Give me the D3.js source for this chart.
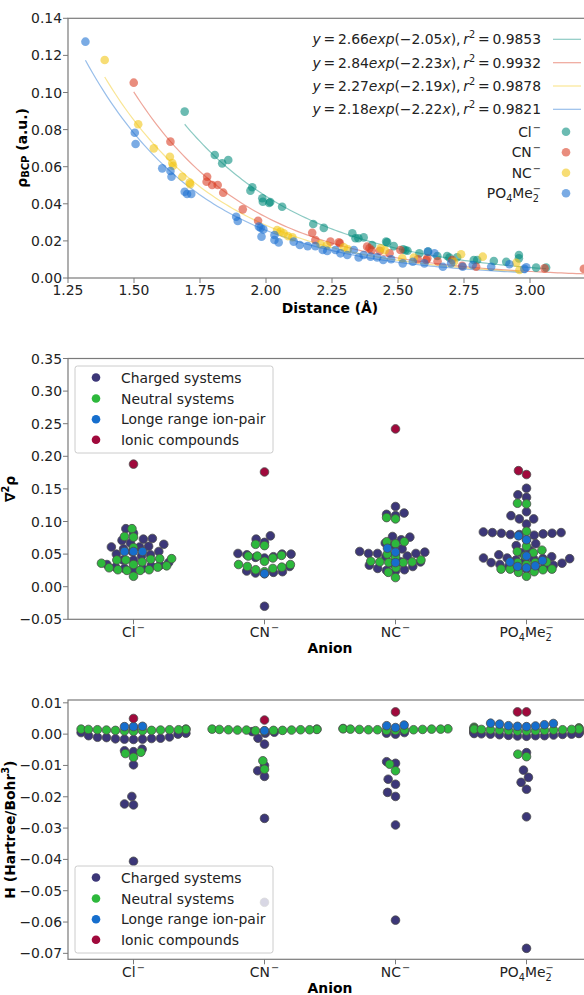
<!DOCTYPE html>
<html><head><meta charset="utf-8">
<script src="https://cdn.jsdelivr.net/npm/d3@7"></script>
<style>body{margin:0;background:#fff}svg{display:block;font-family:"DejaVu Sans",sans-serif}</style>
</head><body>
<svg id="chart" width="584" height="995"></svg>
<script>
// ---------------- DATA ----------------
const anions = ["Cl", "CN", "NC", "PO4Me2"];
// Panel 1: [distance (Å), rho_BCP (a.u.)]
const rhoCl = [[1.692,0.0897],[1.806,0.0663],[1.834,0.0618],[1.857,0.0636],[1.941,0.0471],[1.948,0.0489],[1.986,0.0430],[1.988,0.0411],[2.012,0.0404],[2.016,0.0410],[2.061,0.0384],[2.179,0.0291],[2.219,0.0270],[2.327,0.0241],[2.339,0.0214],[2.350,0.0214],[2.370,0.0219],[2.402,0.0178],[2.455,0.0196],[2.459,0.0192],[2.484,0.0172],[2.520,0.0155],[2.528,0.0150],[2.536,0.0147],[2.581,0.0133],[2.614,0.0142],[2.649,0.0119],[2.686,0.0119],[2.695,0.0110],[2.724,0.0112],[2.787,0.0097],[2.800,0.0097],[2.863,0.0092],[2.910,0.0088],[2.958,0.0124],[2.958,0.0106],[3.023,0.0056],[3.061,0.0056]];
const rhoCN = [[1.499,0.1053],[1.638,0.0735],[1.777,0.0546],[1.775,0.0519],[1.796,0.0501],[1.817,0.0501],[1.838,0.0460],[1.912,0.0370],[1.970,0.0309],[2.175,0.0244],[2.187,0.0205],[2.244,0.0196],[2.276,0.0192],[2.280,0.0187],[2.383,0.0169],[2.392,0.0160],[2.400,0.0150],[2.431,0.0147],[2.468,0.0133],[2.509,0.0151],[2.575,0.0101],[2.607,0.0097],[2.611,0.0106],[2.650,0.0090],[2.705,0.0097],[2.743,0.0066],[2.796,0.0061],[3.055,0.0052],[3.204,0.0049]];
const rhoNC = [[1.389,0.1175],[1.516,0.0829],[1.575,0.0699],[1.636,0.0654],[1.648,0.0605],[1.645,0.0620],[1.683,0.0546],[1.711,0.0514],[1.713,0.0505],[2.042,0.0259],[2.055,0.0250],[2.067,0.0241],[2.083,0.0226],[2.100,0.0220],[2.206,0.0183],[2.230,0.0175],[2.295,0.0165],[2.310,0.0155],[2.434,0.0160],[2.450,0.0150],[2.516,0.0106],[2.560,0.0110],[2.712,0.0088],[2.739,0.0128],[2.821,0.0115],[2.948,0.0082],[2.960,0.0043]];
const rhoPO4 = [[1.316,0.1274],[1.503,0.0783],[1.506,0.0722],[1.607,0.0591],[1.638,0.0577],[1.642,0.0546],[1.692,0.0465],[1.701,0.0453],[1.717,0.0453],[1.887,0.0330],[1.893,0.0307],[1.973,0.0277],[1.980,0.0270],[1.990,0.0262],[1.983,0.0223],[2.032,0.0232],[2.032,0.0205],[2.048,0.0192],[2.105,0.0196],[2.128,0.0178],[2.158,0.0172],[2.187,0.0172],[2.215,0.0151],[2.232,0.0146],[2.263,0.0151],[2.282,0.0133],[2.308,0.0124],[2.333,0.0151],[2.351,0.0111],[2.370,0.0124],[2.396,0.0115],[2.421,0.0111],[2.444,0.0097],[2.474,0.0101],[2.518,0.0079],[2.556,0.0088],[2.600,0.0079],[2.613,0.0142],[2.638,0.0133],[2.670,0.0061],[2.701,0.0079],[2.745,0.0061],[2.783,0.0070],[2.853,0.0061],[2.922,0.0074],[2.979,0.0049],[2.986,0.0058]];
const fitA = [2.66, 2.84, 2.27, 2.18];
const fitB = [-2.05, -2.23, -2.19, -2.22];
const fitR2 = [0.9853, 0.9932, 0.9878, 0.9821];
const xTicksDist = [1.25, 1.50, 1.75, 2.00, 2.25, 2.50, 2.75, 3.00];
const yTicksRho = [0, 0.02, 0.04, 0.06, 0.08, 0.10, 0.12, 0.14];

// Panel 2: Laplacian, per anion [Cl, CN, NC, PO4Me2]
const groups = ["Charged systems", "Neutral systems", "Longe range ion-pair", "Ionic compounds"];
const lapCharged = [
  [0.089,0.082,0.074,0.073,0.071,0.067,0.065,0.062,0.061,0.061,0.058,0.054,0.054,0.050,0.049,0.047,0.041,0.041,0.037,0.034,0.033,0.032,0.030,0.028,0.028,0.027],
  [0.078,0.073,0.068,0.051,0.050,0.050,0.049,0.046,0.045,0.044,0.031,0.024,0.023,0.022,0.021,0.020,-0.030],
  [0.123,0.113,0.111,0.109,0.077,0.076,0.072,0.067,0.064,0.058,0.054,0.053,0.051,0.051,0.051,0.049,0.047,0.046,0.038,0.038,0.036,0.033,0.031,0.028,0.026,0.025,0.024],
  [0.151,0.141,0.137,0.115,0.109,0.104,0.104,0.096,0.084,0.083,0.083,0.082,0.082,0.081,0.080,0.080,0.079,0.072,0.066,0.063,0.056,0.052,0.049,0.046,0.044,0.044,0.043,0.043,0.042,0.041,0.040,0.037,0.036,0.034,0.033,0.031,0.030,0.029,0.028,0.027]
];
const lapNeutral = [
  [0.089,0.077,0.076,0.060,0.043,0.043,0.042,0.041,0.041,0.038,0.036,0.034,0.032,0.030,0.029,0.026,0.026,0.025,0.025,0.016],
  [0.065,0.063,0.048,0.047,0.047,0.044,0.039,0.034,0.034,0.031,0.030,0.028,0.026,0.023],
  [0.106,0.104,0.069,0.069,0.066,0.050,0.046,0.041,0.039,0.038,0.038,0.037,0.037,0.029,0.022,0.014],
  [0.128,0.127,0.085,0.062,0.056,0.054,0.052,0.047,0.038,0.037,0.037,0.034,0.027,0.027,0.027,0.026,0.023,0.022,0.016]
];
const lapLongRange = [[0.054,0.054,0.054],[0.020],[0.059,0.053,0.037],[0.078,0.072,0.047,0.040,0.038,0.032,0.031,0.029]];
const lapIonic = [[0.188],[0.176],[0.242],[0.178,0.172]];
const yTicksLap = [-0.05, 0, 0.05, 0.10, 0.15, 0.20, 0.25, 0.30, 0.35];

// Panel 3: H (Hartree/Bohr^3)
const hCharged = [
  [0.0019,0.0005,0.0003,0.0,-0.0005,-0.0009,-0.0011,-0.0013,-0.0015,-0.0016,-0.0017,-0.0016,-0.0014,-0.0010,-0.0048,-0.0053,-0.0056,-0.0098,-0.0199,-0.0223,-0.0226,-0.0406],
  [0.0008,0.0006,0.0003,-0.0013,-0.0032,-0.0100,-0.0117,-0.0135,-0.0269,-0.0537],
  [0.0005,0.0003,0.0,-0.0088,-0.0093,-0.0144,-0.0160,-0.0186,-0.0199,-0.0290,-0.0594],
  [0.0012,0.0011,0.0010,0.0009,0.0008,0.0007,0.0006,0.0005,0.0004,0.0003,0.0002,0.0002,0.0001,0.0,0.0,-0.0001,-0.0002,-0.0003,-0.0004,-0.0005,-0.0005,-0.0006,-0.0007,-0.0059,-0.0115,-0.0138,-0.0154,-0.0176,-0.0264,-0.0684]
];
const hNeutral = [
  [0.0016,0.0016,0.0015,0.0015,0.0014,0.0014,0.0014,0.0013,0.0013,0.0012,0.0012,0.0011,0.0010,0.0009,-0.0058,-0.0062,-0.0074],
  [0.0016,0.0016,0.0015,0.0015,0.0014,0.0014,0.0014,0.0013,0.0013,0.0013,0.0012,0.0012,0.0011,0.0010,-0.0085,-0.0112],
  [0.0018,0.0017,0.0017,0.0016,0.0016,0.0016,0.0015,0.0015,0.0014,0.0014,0.0014,0.0013,0.0012,0.0012,-0.0096,-0.0117],
  [0.0022,0.0020,0.0019,0.0018,0.0017,0.0016,0.0016,0.0015,0.0015,0.0014,0.0014,0.0013,0.0013,0.0012,0.0012,0.0011,0.0010,0.0010,-0.0064,-0.0072]
];
const hLongRange = [[0.0024,0.0024,0.0025],[0.0011],[0.0027,0.0021,0.0029],[0.0035,0.0034,0.0032,0.0030,0.0027,0.0026,0.0025,0.0024]];
const hIonic = [[0.0050],[0.0045],[0.0071],[0.0071,0.0071]];
const yTicksH = [0.01, 0, -0.01, -0.02, -0.03, -0.04, -0.05, -0.06, -0.07];

// ---------------- STYLE ----------------
const FS = 13.9;
const SPINE = "#7a7a7a", TXT = "#222";
const anionColors = ["#00897b", "#d93a20", "#f2c511", "#1a6fd0"];
const groupColors = ["#3c3778", "#2db83c", "#166ecd", "#a0093c"];
const AX_L = 68, AX_R = 592;
const svg = d3.select("#chart");
const fmt2 = d3.format(".2f");

function addChem(t, label, fs) {
  const toks = label.match(/[A-Za-z]+|\d+/g);
  let cur = 0, last = null;
  toks.forEach(tok => {
    const isD = /^\d+$/.test(tok);
    const target = isD ? 0.24 * fs : 0;
    t.append("tspan").attr("dy", target - cur).attr("font-size", isD ? 0.7 * fs : fs).text(tok);
    cur = target; last = isD ? tok : null;
  });
  const sup = -0.42 * fs;
  const ts = t.append("tspan").attr("font-size", 0.7 * fs).attr("dy", sup - cur).text("\u2212");
  ts.attr("dx", last ? -0.636 * 0.7 * fs * last.length : 0.08 * fs);
}

function frame(top, bottom) {
  svg.append("rect").attr("x", AX_L).attr("y", top).attr("width", AX_R - AX_L).attr("height", bottom - top)
    .attr("fill", "none").attr("stroke", SPINE).attr("stroke-width", 1.2);
}
function yAxisTicks(yS, ticks) {
  ticks.forEach(v => {
    const y = yS(v);
    svg.append("line").attr("x1", AX_L - 5).attr("x2", AX_L).attr("y1", y).attr("y2", y).attr("stroke", SPINE).attr("stroke-width", 1);
    svg.append("text").attr("x", AX_L - 6).attr("y", y).attr("dy", "0.36em").attr("text-anchor", "end")
      .attr("font-size", FS).attr("fill", TXT).text(fmt2(v));
  });
}
function xTickMark(x, bottom) {
  svg.append("line").attr("x1", x).attr("x2", x).attr("y1", bottom).attr("y2", bottom + 5).attr("stroke", SPINE).attr("stroke-width", 1);
}
function yLabel(bx, cy, build) {
  const t = svg.append("text").attr("transform", `translate(${bx},${cy}) rotate(-90)`).attr("text-anchor", "middle")
    .attr("font-weight", "bold").attr("font-size", FS).attr("fill", "#000");
  build(t);
}
function xLabel(cy, txt) {
  svg.append("text").attr("x", (AX_L + AX_R) / 2).attr("y", cy + 5).attr("text-anchor", "middle")
    .attr("font-weight", "bold").attr("font-size", FS).attr("fill", "#000").text(txt);
}

// ---------------- PANEL 1 ----------------
(function () {
  const top = 18.3, bottom = 278;
  const x = d3.scaleLinear().domain([1.25, 1.25 + (AX_R - AX_L) / 264]).range([AX_L, AX_R]);
  const y = d3.scaleLinear().domain([0, 0.14]).range([bottom, top]);
  const series = [rhoCl, rhoCN, rhoNC, rhoPO4];
  svg.append("clipPath").attr("id", "clip1").append("rect").attr("x", AX_L).attr("y", top).attr("width", AX_R - AX_L).attr("height", bottom - top);
  const g = svg.append("g").attr("clip-path", "url(#clip1)");
  const line = d3.line().x(d => x(d[0])).y(d => y(d[1]));
  series.forEach((s, i) => {
    const ext = d3.extent(s, d => d[0]);
    const pts = d3.range(0, 121).map(k => {
      const xv = ext[0] + (ext[1] - ext[0]) * k / 120;
      return [xv, fitA[i] * Math.exp(fitB[i] * xv)];
    });
    g.append("path").attr("d", line(pts)).attr("fill", "none").attr("stroke", anionColors[i])
      .attr("stroke-opacity", 0.45).attr("stroke-width", 1.2);
  });
  series.forEach((s, i) => {
    g.selectAll(null).data(s).enter().append("circle")
      .attr("cx", d => x(d[0])).attr("cy", d => y(d[1])).attr("r", 4.3)
      .attr("fill", anionColors[i]).attr("fill-opacity", 0.58);
  });
  frame(top, bottom);
  yAxisTicks(y, yTicksRho);
  xTicksDist.forEach(v => {
    xTickMark(x(v), bottom);
    svg.append("text").attr("x", x(v)).attr("y", bottom + 17).attr("text-anchor", "middle")
      .attr("font-size", FS).attr("fill", TXT).text(fmt2(v));
  });
  xLabel(308, "Distance (Å)");
  yLabel(27, 148, t => {
    t.append("tspan").text("ρ");
    t.append("tspan").attr("font-size", 0.72 * FS).attr("dy", 0.12 * FS).text("BCP");
    t.append("tspan").attr("dy", -0.12 * FS).text(" (a.u.)");
  });
  // legend
  const rowsY = [39.3, 62.7, 86, 109.3, 131.7, 152.3, 172.7, 193.3];
  const TX = 541;
  fitA.forEach((a, i) => {
    const cy = rowsY[i];
    const t = svg.append("text").attr("x", TX).attr("y", cy + 5).attr("text-anchor", "end").attr("font-size", FS).attr("fill", TXT);
    const it = s => t.append("tspan").attr("font-style", "italic").text(s);
    const rm = s => t.append("tspan").text(s);
    it("y"); rm("\u2009=\u2009" + a.toFixed(2)); it("exp"); rm("(\u2212" + Math.abs(fitB[i]).toFixed(2)); it("x"); rm("),\u2009"); it("r");
    t.append("tspan").attr("font-size", 0.7 * FS).attr("dy", -0.42 * FS).text("2");
    t.append("tspan").attr("dy", 0.42 * FS).text("\u2009=\u2009" + fitR2[i].toFixed(4));
    svg.append("line").attr("x1", 553).attr("x2", 581).attr("y1", cy).attr("y2", cy)
      .attr("stroke", anionColors[i]).attr("stroke-opacity", 0.45).attr("stroke-width", 1.2);
  });
  anions.forEach((a, i) => {
    const cy = rowsY[4 + i];
    const t = svg.append("text").attr("x", TX).attr("y", cy + 5).attr("text-anchor", "end").attr("font-size", FS).attr("fill", TXT);
    addChem(t, a, FS);
    svg.append("circle").attr("cx", 566).attr("cy", cy).attr("r", 4.3).attr("fill", anionColors[i]).attr("fill-opacity", 0.58);
  });
})();

// ---------------- SWARM PANELS ----------------
function beeswarm(pts, d) {
  // seaborn-like beeswarm in pixel space; sets p.x offsets
  const order = pts.map((p, i) => i).sort((a, b) => pts[b].y - pts[a].y);
  const placed = [];
  order.forEach(i => {
    const p = pts[i];
    const neigh = placed.filter(q => Math.abs(q.y - p.y) < d);
    const cands = [0];
    let leftFirst = true;
    neigh.forEach(q => {
      const dy = p.y - q.y;
      const dx = Math.sqrt(Math.max(d * d - dy * dy, 0)) * 1.05;
      if (leftFirst) cands.push(q.x - dx, q.x + dx); else cands.push(q.x + dx, q.x - dx);
      leftFirst = !leftFirst;
    });
    const sorted = cands.map((c, k) => [c, k]).sort((a, b) => Math.abs(a[0]) - Math.abs(b[0]) || a[1] - b[1]).map(c => c[0]);
    let chosen = sorted[0];
    for (const c of sorted) {
      if (neigh.every(q => (q.x - c) ** 2 + (q.y - p.y) ** 2 >= d * d - 1e-6)) { chosen = c; break; }
    }
    p.x = chosen;
    placed.push(p);
  });
}

function swarmPanel(top, bottom, yDomain, yTicks, data, legendTop, xlabY, ylabX, ylabBuild) {
  const x = d3.scaleBand().domain(anions).range([AX_L, AX_R]);
  const y = d3.scaleLinear().domain(yDomain).range([bottom, top]);
  const half = 0.8 * x.bandwidth() / 2;
  const D = 8.6;
  // each group is swarmed on its own (one swarm call per group), drawn in group order
  data.forEach((arr, gi) => {
    anions.forEach((a, ci) => {
      const pts = arr[ci].map(v => ({ v, y: y(v) }));
      beeswarm(pts, D);
      const cx = x(a) + x.bandwidth() / 2;
      svg.selectAll(null).data(pts).enter().append("circle")
        .attr("cx", p => cx + Math.max(-half, Math.min(half, p.x))).attr("cy", p => p.y).attr("r", 4.3)
        .attr("fill", groupColors[gi]).attr("stroke", "#4d4d4d").attr("stroke-width", 0.8);
    });
  });
  frame(top, bottom);
  yAxisTicks(y, yTicks);
  anions.forEach(a => {
    const cx = x(a) + x.bandwidth() / 2;
    xTickMark(cx, bottom);
    const t = svg.append("text").attr("x", cx).attr("y", bottom + 18).attr("text-anchor", "middle").attr("font-size", FS).attr("fill", TXT);
    addChem(t, a, FS);
  });
  xLabel(xlabY, "Anion");
  yLabel(ylabX, (top + bottom) / 2, ylabBuild);
  // legend
  svg.append("rect").attr("x", 75).attr("y", legendTop).attr("width", 198).attr("height", 87).attr("rx", 2.5)
    .attr("fill", "#fff").attr("fill-opacity", 0.8).attr("stroke", "#cccccc").attr("stroke-width", 1);
  const offs = [11.5, 32.5, 53.2, 73.8];
  groups.forEach((gname, gi) => {
    const cy = legendTop + offs[gi];
    svg.append("circle").attr("cx", 96).attr("cy", cy).attr("r", 4.3).attr("fill", groupColors[gi]);
    svg.append("text").attr("x", 121).attr("y", cy + 5).attr("font-size", FS).attr("fill", TXT).text(gname);
  });
}

swarmPanel(358.5, 619.3, [-0.05, 0.35], yTicksLap, [lapCharged, lapNeutral, lapLongRange, lapIonic], 366, 648.3, 14.5, t => {
  t.append("tspan").text("∇");
  t.append("tspan").attr("font-size", 0.7 * FS).attr("dy", -0.42 * FS).text("2");
  t.append("tspan").attr("dy", 0.42 * FS).text("ρ");
});
swarmPanel(700, 959.3, [-0.0719, 0.0109], yTicksH, [hCharged, hNeutral, hLongRange, hIonic], 866, 988.3, 14.5, t => {
  t.append("tspan").text("H (Hartree/Bohr");
  t.append("tspan").attr("font-size", 0.7 * FS).attr("dy", -0.42 * FS).text("3");
  t.append("tspan").attr("dy", 0.42 * FS).text(")");
});
</script>
</body></html>
